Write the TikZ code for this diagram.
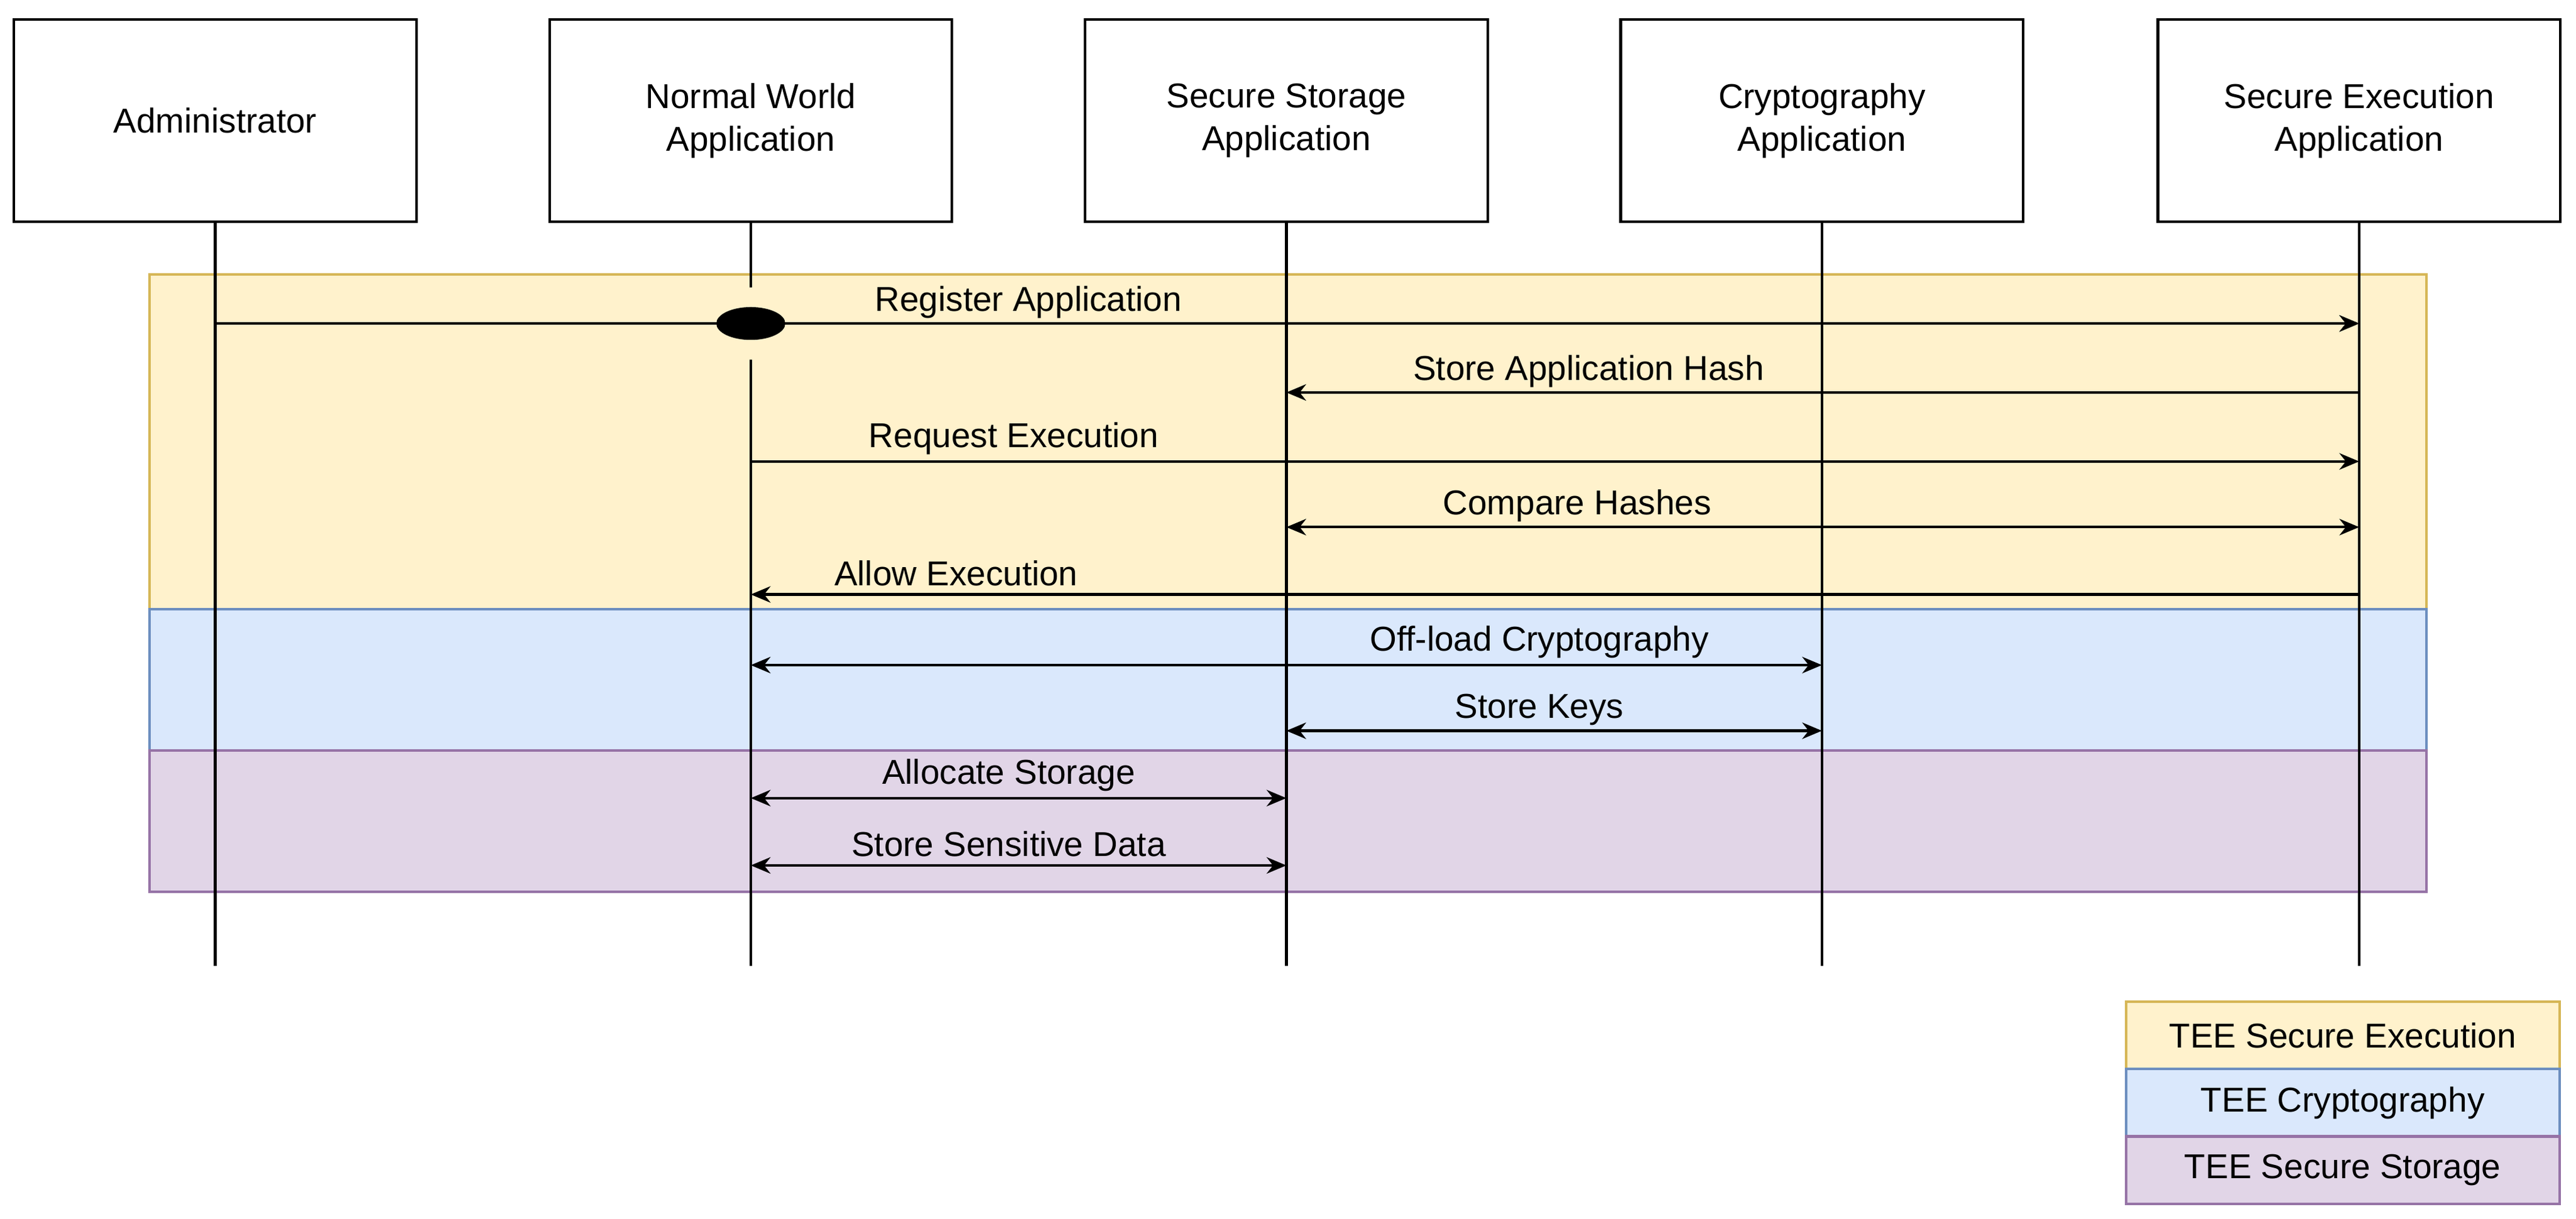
\documentclass[tikz,border=0pt]{standalone}
\usepackage{fontspec}
\setmainfont{Liberation Sans}
\usetikzlibrary{arrows.meta,shapes.geometric}
\definecolor{yf}{HTML}{FFF2CC}\definecolor{yd}{HTML}{D6B656}
\definecolor{bf}{HTML}{DAE8FC}\definecolor{bd}{HTML}{6C8EBF}
\definecolor{pf}{HTML}{E1D5E7}\definecolor{pd}{HTML}{9673A6}
\begin{document}
\begin{tikzpicture}[x=0.5pt,y=-0.5pt,
  actor/.style={draw,line width=0.8pt,minimum width=122.5pt,minimum height=61.5pt,align=center,font=\fontsize{10.5}{13}\selectfont,fill=white},
  msg/.style={line width=0.8pt,-{Stealth[length=6pt,width=5pt]}},
  bmsg/.style={line width=0.8pt,{Stealth[length=6pt,width=5pt]}-{Stealth[length=6pt,width=5pt]}},
  lbl/.style={font=\fontsize{10.5}{13}\selectfont,inner sep=0pt},
  life/.style={line width=0.8pt},
  leg/.style={minimum width=132pt,minimum height=20.5pt,font=\fontsize{10.5}{13}\selectfont,line width=0.8pt}]
\useasboundingbox (0,0) rectangle (1568,742);
\draw[yd,fill=yf,line width=0.8pt] (91,167) rectangle (1477,371);
\draw[bd,fill=bf,line width=0.8pt] (91,371) rectangle (1477,457);
\draw[pd,fill=pf,line width=0.8pt] (91,457) rectangle (1477,543);
\node[actor] (a) at (131,73.5) {Administrator};
\node[actor] (n) at (457,73.5) {Normal World\\Application};
\node[actor] (s) at (783,73.5) {Secure Storage\\Application};
\node[actor] (c) at (1109,73.5) {Cryptography\\Application};
\node[actor] (e) at (1436,73.5) {Secure Execution\\Application};
\foreach \p/\x in {a/131,n/457,s/783,c/1109,e/1436}{
  \coordinate (\p b) at (\x,588);
  \draw[life] (\p.south) -- (\p b);
  \foreach \y in {197,239,281,321,362,405,445,486,527}{\coordinate (\p\y) at (\x,\y);}
}
\draw[msg] (a197) -- (e197);
\fill[yf] (457,197) ellipse (28 and 22);
\draw[msg] (a197) -- (e197);
\node[fill=black,ellipse,minimum width=21pt,minimum height=10pt,inner sep=0pt] (dot) at (n197) {};
\draw[msg] (e239) -- (s239);
\draw[msg] (n281) -- (e281);
\draw[bmsg] (s321) -- (e321);
\draw[msg] (e362) -- (n362);
\draw[bmsg] (n405) -- (c405);
\draw[bmsg] (s445) -- (c445);
\draw[bmsg] (n486) -- (s486);
\draw[bmsg] (n527) -- (s527);
\node[lbl] at (626,184) {Register Application};
\node[lbl] at (967,226) {Store Application Hash};
\node[lbl] at (617,267) {Request Execution};
\node[lbl] at (960,308) {Compare Hashes};
\node[lbl] at (582,349) {Allow Execution};
\node[lbl] at (937,391) {Off-load Cryptography};
\node[lbl] at (937,432) {Store Keys};
\node[lbl] at (614,472) {Allocate Storage};
\node[lbl] at (614,514) {Store Sensitive Data};
\node[leg,draw=yd,fill=yf] (l1) at (1426,630.5) {TEE Secure Execution};
\node[leg,draw=bd,fill=bf] (l2) at (1426,671.5) {TEE Cryptography};
\node[leg,draw=pd,fill=pf] (l3) at (1426,712.5) {TEE Secure Storage};
\end{tikzpicture}
\end{document}
